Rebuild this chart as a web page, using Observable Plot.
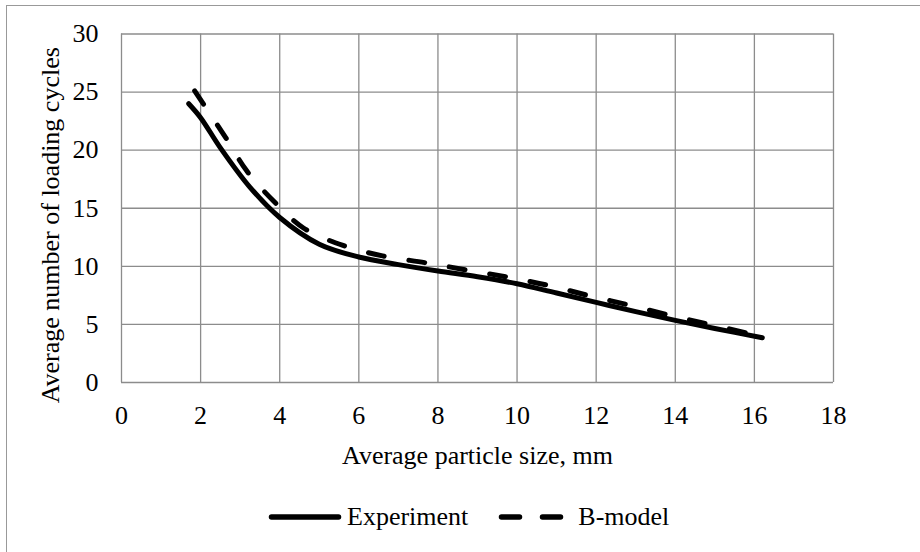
<!DOCTYPE html>
<html>
<head>
<meta charset="utf-8">
<script src="https://cdn.jsdelivr.net/npm/d3@7"></script>
<script src="https://cdn.jsdelivr.net/npm/@observablehq/plot@0.6"></script>
<style>
  html, body { margin: 0; padding: 0; background: #fff; overflow: hidden; }
  body { width: 920px; height: 552px; position: relative; font-family: "Liberation Serif", "Times New Roman", serif; }
  #frame { position: absolute; left: 6px; top: 4.5px; width: 1000px; height: 1000px; border: 1.5px solid #999; pointer-events: none; }
  #chart { position: absolute; left: 0; top: 0; }
  #legend { position: absolute; left: 0; top: 490px; width: 920px; height: 53px; display: flex; align-items: center; font-size: 26px; color: #000; }
  #legend .item { display: flex; align-items: center; }
  #legend svg { display: block; }
</style>
</head>
<body>
<div id="chart"></div>
<div id="legend"></div>
<div id="frame"></div>
<script>
// ---- data ----
const xTicks = [0, 2, 4, 6, 8, 10, 12, 14, 16, 18];
const yTicks = [0, 5, 10, 15, 20, 25, 30];

const seriesNames = ["Experiment", "B-model"];

const expX = [1.7, 2.0, 2.5, 3.25, 4.0, 5.0, 6.0, 7.0, 8.0, 9.0, 10.0, 11.0, 12.0, 13.0, 14.0, 15.0, 16.2];
const expY = [24.0, 22.8, 20.2, 16.8, 14.2, 11.9, 10.8, 10.15, 9.6, 9.1, 8.5, 7.7, 6.9, 6.1, 5.35, 4.65, 3.85];

const bmX = [1.85, 2.63, 3.17, 3.85, 4.6, 5.6, 6.6, 7.7, 8.7, 9.8, 10.8, 11.85, 12.85, 13.9, 14.9, 15.9, 16.2];
const bmY = [25.1, 21.1, 18.2, 15.6, 13.3, 11.8, 10.9, 10.3, 9.7, 9.05, 8.35, 7.45, 6.65, 5.75, 4.98, 4.18, 3.9];

const xLabel = "Average particle size, mm";
const yLabel = "Average number of loading cycles";

// ---- build tables ----
const expData = expX.map((x, i) => ({x, y: expY[i]}));
const bmData = bmX.map((x, i) => ({x, y: bmY[i]}));

const gridStyle = {stroke: "#8c8c8c", strokeOpacity: 1, strokeWidth: 1.3};
const dash = "16,25";

const chart = Plot.plot({
  width: 920,
  height: 490,
  marginLeft: 121,
  marginRight: 87,
  marginTop: 33.5,
  marginBottom: 108,
  style: {fontFamily: "'Liberation Serif', 'Times New Roman', serif", fontSize: "26px", color: "#000", background: "transparent", overflow: "visible"},
  x: {domain: [0, 18], ticks: xTicks, label: null},
  y: {domain: [0, 30], ticks: yTicks, label: null},
  marks: [
    Plot.gridX(xTicks, gridStyle),
    Plot.gridY(yTicks, gridStyle),
    Plot.axisX({ticks: xTicks, tickSize: 0, tickPadding: 23, label: null}),
    Plot.axisY({ticks: yTicks, tickSize: 0, tickPadding: 23, label: null}),
    Plot.line(expData, {x: "x", y: "y", curve: "catmull-rom", stroke: "#000", strokeWidth: 5, strokeLinecap: "round", strokeLinejoin: "round"}),
    Plot.line(bmData, {x: "x", y: "y", curve: "catmull-rom", stroke: "#000", strokeWidth: 5, strokeLinecap: "round", strokeLinejoin: "round", strokeDasharray: dash}),
    Plot.text([xLabel], {text: d => d, frameAnchor: "bottom", dy: 73.6, lineAnchor: "middle", textAnchor: "middle", fill: "#000"}),
    Plot.text([yLabel], {text: d => d, frameAnchor: "left", rotate: -90, dx: -71, dy: 17, lineAnchor: "middle", textAnchor: "middle", fill: "#000"})
  ]
});
document.getElementById("chart").appendChild(chart);

// ---- legend (below the chart) ----
const legend = document.getElementById("legend");
legend.style.paddingLeft = "268px";
legend.style.boxSizing = "border-box";
const ns = "http://www.w3.org/2000/svg";
function sample(w, dashed) {
  const s = document.createElementNS(ns, "svg");
  s.setAttribute("width", w);
  s.setAttribute("height", 20);
  const l = document.createElementNS(ns, "line");
  l.setAttribute("x1", 3.5);
  l.setAttribute("x2", w - 3.5);
  l.setAttribute("y1", 10);
  l.setAttribute("y2", 10);
  l.setAttribute("stroke", "#000");
  l.setAttribute("stroke-width", 5.5);
  l.setAttribute("stroke-linecap", "round");
  if (dashed) l.setAttribute("stroke-dasharray", "18,23");
  s.appendChild(l);
  return s;
}
seriesNames.forEach((name, i) => {
  const item = document.createElement("div");
  item.className = "item";
  if (i > 0) item.style.marginLeft = "30px";
  const sw = sample(i === 0 ? 74 : 69, i === 1);
  const t = document.createElement("span");
  t.textContent = name;
  t.style.marginLeft = i === 0 ? "5px" : "11px";
  item.appendChild(sw);
  item.appendChild(t);
  legend.appendChild(item);
});
</script>
</body>
</html>
